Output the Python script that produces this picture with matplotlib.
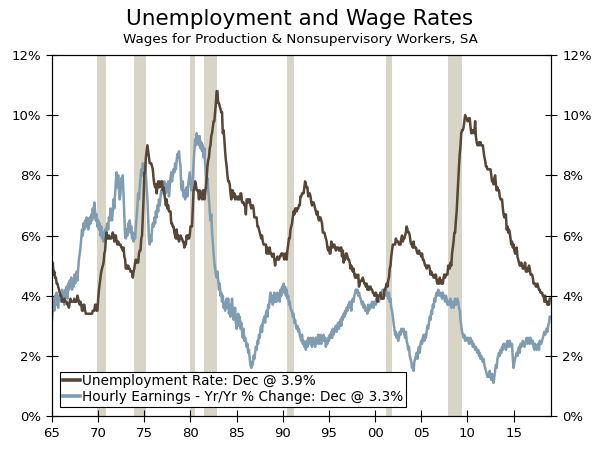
import numpy as np
import matplotlib
matplotlib.use("Agg")
import matplotlib.pyplot as plt

# monthly unemployment rate, 1965-2018 (one row per year)
unemp = [
    4.9, 5.1, 4.7, 4.8, 4.6, 4.6, 4.4, 4.4, 4.3, 4.2, 4.1, 4.0,
    4.0, 3.8, 3.8, 3.8, 3.9, 3.8, 3.8, 3.8, 3.7, 3.7, 3.6, 3.8,
    3.9, 3.8, 3.8, 3.8, 3.8, 3.9, 3.8, 3.8, 3.8, 4.0, 3.9, 3.8,
    3.7, 3.8, 3.7, 3.5, 3.5, 3.7, 3.7, 3.5, 3.4, 3.4, 3.4, 3.4,
    3.4, 3.4, 3.4, 3.4, 3.4, 3.5, 3.5, 3.5, 3.7, 3.7, 3.5, 3.5,
    3.9, 4.2, 4.4, 4.6, 4.8, 4.9, 5.0, 5.1, 5.4, 5.5, 5.9, 6.1,
    5.9, 5.9, 6.0, 5.9, 5.9, 5.9, 6.0, 6.1, 6.0, 5.8, 6.0, 6.0,
    5.8, 5.7, 5.8, 5.7, 5.7, 5.7, 5.6, 5.6, 5.5, 5.6, 5.3, 5.2,
    4.9, 5.0, 4.9, 5.0, 4.9, 4.9, 4.8, 4.8, 4.8, 4.6, 4.8, 4.9,
    5.1, 5.2, 5.1, 5.1, 5.1, 5.4, 5.5, 5.5, 5.9, 6.0, 6.6, 7.2,
    8.1, 8.1, 8.6, 8.8, 9.0, 8.8, 8.6, 8.4, 8.4, 8.4, 8.3, 8.2,
    7.9, 7.7, 7.6, 7.7, 7.4, 7.6, 7.8, 7.8, 7.6, 7.7, 7.8, 7.8,
    7.5, 7.6, 7.4, 7.2, 7.0, 7.2, 6.9, 7.0, 6.8, 6.8, 6.8, 6.4,
    6.4, 6.3, 6.3, 6.1, 6.0, 5.9, 6.2, 5.9, 6.0, 5.8, 5.9, 6.0,
    5.9, 5.9, 5.8, 5.8, 5.6, 5.7, 5.7, 6.0, 5.9, 6.0, 5.9, 6.0,
    6.3, 6.3, 6.3, 6.9, 7.5, 7.6, 7.8, 7.7, 7.5, 7.5, 7.5, 7.2,
    7.5, 7.4, 7.4, 7.2, 7.5, 7.5, 7.2, 7.4, 7.6, 7.9, 8.3, 8.5,
    8.6, 8.9, 9.0, 9.3, 9.4, 9.6, 9.8, 9.8, 10.1, 10.4, 10.8, 10.8,
    10.4, 10.4, 10.3, 10.2, 10.1, 10.1, 9.4, 9.5, 9.2, 8.8, 8.5, 8.3,
    8.0, 7.8, 7.8, 7.7, 7.4, 7.2, 7.5, 7.5, 7.3, 7.4, 7.2, 7.3,
    7.3, 7.2, 7.2, 7.3, 7.2, 7.4, 7.4, 7.1, 7.1, 7.1, 7.0, 7.0,
    6.7, 7.2, 7.2, 7.1, 7.2, 7.2, 7.0, 6.9, 7.0, 7.0, 6.9, 6.6,
    6.6, 6.6, 6.6, 6.3, 6.3, 6.2, 6.1, 6.0, 5.9, 6.0, 5.8, 5.7,
    5.7, 5.7, 5.7, 5.4, 5.6, 5.4, 5.4, 5.6, 5.4, 5.4, 5.3, 5.3,
    5.4, 5.2, 5.0, 5.2, 5.2, 5.3, 5.2, 5.2, 5.3, 5.3, 5.4, 5.4,
    5.4, 5.3, 5.2, 5.4, 5.4, 5.2, 5.5, 5.7, 5.9, 5.9, 6.2, 6.3,
    6.4, 6.6, 6.8, 6.7, 6.9, 6.9, 6.8, 6.9, 6.9, 7.0, 7.0, 7.3,
    7.3, 7.4, 7.4, 7.4, 7.6, 7.8, 7.7, 7.6, 7.6, 7.3, 7.4, 7.4,
    7.3, 7.1, 7.0, 7.1, 7.1, 7.0, 6.9, 6.8, 6.7, 6.8, 6.6, 6.5,
    6.6, 6.6, 6.5, 6.4, 6.1, 6.1, 6.1, 6.0, 5.9, 5.8, 5.6, 5.5,
    5.6, 5.4, 5.4, 5.8, 5.6, 5.6, 5.7, 5.7, 5.6, 5.5, 5.6, 5.6,
    5.6, 5.5, 5.5, 5.6, 5.6, 5.3, 5.5, 5.1, 5.2, 5.2, 5.4, 5.4,
    5.3, 5.2, 5.2, 5.1, 4.9, 5.0, 4.9, 4.8, 4.9, 4.7, 4.6, 4.7,
    4.6, 4.6, 4.7, 4.3, 4.4, 4.5, 4.5, 4.5, 4.6, 4.5, 4.4, 4.4,
    4.3, 4.4, 4.2, 4.3, 4.2, 4.3, 4.3, 4.2, 4.2, 4.1, 4.1, 4.0,
    4.0, 4.1, 4.0, 3.8, 4.0, 4.0, 4.0, 4.1, 3.9, 3.9, 3.9, 3.9,
    4.2, 4.2, 4.3, 4.4, 4.3, 4.5, 4.6, 4.9, 5.0, 5.3, 5.5, 5.7,
    5.7, 5.7, 5.7, 5.9, 5.8, 5.8, 5.8, 5.7, 5.7, 5.7, 5.9, 6.0,
    5.8, 5.9, 5.9, 6.0, 6.1, 6.3, 6.2, 6.1, 6.1, 6.0, 5.8, 5.7,
    5.7, 5.6, 5.8, 5.6, 5.6, 5.6, 5.5, 5.4, 5.4, 5.5, 5.4, 5.4,
    5.3, 5.4, 5.2, 5.2, 5.1, 5.0, 5.0, 4.9, 5.0, 5.0, 5.0, 4.9,
    4.7, 4.8, 4.7, 4.7, 4.6, 4.6, 4.7, 4.7, 4.5, 4.4, 4.5, 4.4,
    4.6, 4.5, 4.4, 4.5, 4.4, 4.6, 4.7, 4.6, 4.7, 4.7, 4.7, 5.0,
    5.0, 4.9, 5.1, 5.0, 5.4, 5.6, 5.8, 6.1, 6.1, 6.5, 6.8, 7.3,
    7.8, 8.3, 8.7, 9.0, 9.4, 9.5, 9.5, 9.6, 9.8, 10.0, 9.9, 9.9,
    9.8, 9.8, 9.9, 9.9, 9.6, 9.4, 9.4, 9.5, 9.5, 9.4, 9.8, 9.3,
    9.1, 9.0, 9.0, 9.1, 9.0, 9.1, 9.0, 9.0, 9.0, 8.8, 8.6, 8.5,
    8.3, 8.3, 8.2, 8.2, 8.2, 8.2, 8.2, 8.0, 7.8, 7.8, 7.7, 7.9,
    8.0, 7.7, 7.5, 7.6, 7.5, 7.5, 7.3, 7.2, 7.2, 7.2, 6.9, 6.7,
    6.6, 6.7, 6.7, 6.2, 6.3, 6.1, 6.2, 6.1, 5.9, 5.7, 5.8, 5.6,
    5.7, 5.5, 5.4, 5.4, 5.6, 5.3, 5.2, 5.1, 5.0, 5.0, 5.1, 5.0,
    4.9, 4.9, 5.0, 5.1, 4.8, 4.9, 4.8, 4.9, 5.0, 4.9, 4.7, 4.7,
    4.7, 4.6, 4.4, 4.4, 4.4, 4.3, 4.3, 4.4, 4.3, 4.2, 4.2, 4.1,
    4.1, 4.1, 4.0, 4.0, 3.8, 4.0, 3.8, 3.8, 3.7, 3.8, 3.7, 3.9,
]

# hourly earnings, production & nonsupervisory, yr/yr % change, 1965-2018
earn = [
    3.2, 3.6, 3.9, 3.5, 4.0, 3.7, 4.1, 3.8, 3.6, 4.0, 3.9, 4.1,
    3.8, 4.2, 3.9, 4.1, 3.7, 4.2, 4.0, 4.3, 3.9, 4.4, 4.2, 4.5,
    4.3, 4.6, 4.2, 4.5, 4.3, 4.7, 4.4, 4.6, 4.8, 4.5, 4.9, 5.2,
    5.4, 5.6, 5.9, 6.2, 6.0, 6.4, 6.2, 6.5, 6.3, 6.6, 6.4, 6.2,
    6.3, 6.6, 6.4, 6.7, 6.5, 6.9, 6.6, 7.1, 6.8, 6.5, 6.7, 6.3,
    6.5, 6.2, 6.4, 6.0, 6.3, 5.9, 6.1, 5.8, 6.0, 6.2, 5.9, 6.3,
    6.4, 6.2, 6.6, 6.5, 6.9, 6.7, 6.5, 6.8, 7.2, 6.9, 7.4, 7.8,
    8.1, 7.6, 8.0, 7.5, 7.2, 7.4, 7.9, 7.7, 8.0, 7.3, 6.6, 6.0,
    5.9, 6.2, 6.0, 6.4, 6.2, 6.5, 6.1, 6.3, 5.9, 6.1, 5.8, 6.0,
    5.9, 6.3, 6.6, 7.0, 7.4, 7.2, 7.6, 7.9, 8.2, 8.0, 8.4, 8.3,
    8.2, 8.4, 8.0, 7.6, 7.2, 6.5, 5.9, 5.7, 6.0, 5.8, 6.2, 6.4,
    6.3, 6.6, 6.4, 6.8, 6.6, 7.0, 6.8, 7.2, 7.0, 7.3, 7.5, 7.4,
    7.7, 7.5, 7.8, 7.6, 7.4, 7.7, 7.5, 7.8, 7.3, 7.6, 7.9, 8.1,
    7.8, 8.0, 8.2, 8.1, 8.4, 8.2, 8.5, 8.7, 8.6, 8.8, 8.5, 8.3,
    7.6, 7.5, 7.8, 7.3, 7.5, 7.2, 7.4, 7.6, 7.3, 7.7, 7.9, 8.1,
    7.8, 7.5, 7.7, 7.9, 8.4, 8.8, 9.2, 9.0, 9.4, 9.1, 9.3, 9.0,
    9.3, 8.9, 9.1, 8.8, 9.0, 8.6, 8.9, 8.4, 8.1, 7.8, 7.9, 7.5,
    7.2, 6.8, 6.5, 6.7, 6.1, 5.8, 5.4, 5.1, 4.9, 4.7, 4.6, 4.8,
    4.5, 4.2, 4.4, 4.0, 4.1, 3.8, 4.0, 3.6, 3.7, 3.5, 3.8, 3.9,
    3.6, 3.9, 3.4, 3.7, 3.3, 3.6, 3.9, 3.5, 3.2, 3.4, 3.6, 3.1,
    2.9, 3.2, 3.4, 3.0, 3.3, 2.9, 3.1, 2.8, 2.6, 2.9, 2.5, 2.6,
    2.5, 2.3, 2.4, 2.1, 2.2, 1.9, 1.7, 1.6, 1.8, 1.7, 2.0, 1.9,
    2.1, 2.3, 2.2, 2.5, 2.4, 2.7, 2.6, 2.9, 3.0, 2.8, 3.1, 3.2,
    3.3, 3.1, 3.4, 3.5, 3.3, 3.7, 3.6, 3.9, 4.1, 3.8, 4.0, 3.7,
    3.9, 4.1, 3.8, 4.0, 3.8, 4.1, 3.9, 4.0, 3.8, 4.2, 4.0, 4.3,
    4.2, 4.4, 4.1, 4.3, 4.0, 4.2, 3.9, 4.0, 3.7, 3.8, 3.6, 3.5,
    3.5, 3.3, 3.4, 3.1, 3.2, 3.0, 2.9, 3.0, 2.8, 2.9, 2.7, 2.6,
    2.5, 2.7, 2.4, 2.5, 2.3, 2.4, 2.2, 2.5, 2.3, 2.6, 2.4, 2.5,
    2.6, 2.4, 2.3, 2.6, 2.4, 2.5, 2.3, 2.6, 2.4, 2.5, 2.7, 2.4,
    2.5, 2.7, 2.4, 2.6, 2.5, 2.7, 2.5, 2.6, 2.3, 2.5, 2.4, 2.6,
    2.5, 2.7, 2.6, 2.8, 2.6, 2.9, 2.7, 2.8, 2.9, 3.0, 2.8, 3.0,
    3.1, 2.9, 3.1, 3.2, 3.0, 3.3, 3.2, 3.4, 3.3, 3.5, 3.4, 3.6,
    3.5, 3.7, 3.6, 3.8, 3.7, 3.5, 3.8, 3.9, 3.8, 4.0, 4.1, 4.2,
    4.1, 4.2, 4.0, 4.1, 4.0, 3.9, 3.8, 3.7, 3.8, 3.6, 3.7, 3.5,
    3.5, 3.6, 3.4, 3.7, 3.5, 3.6, 3.7, 3.6, 3.8, 3.7, 3.6, 3.8,
    3.8, 3.7, 3.9, 3.8, 3.9, 3.8, 4.0, 3.9, 4.1, 4.0, 4.2, 4.1,
    4.1, 4.0, 4.2, 4.1, 4.0, 3.9, 4.1, 3.8, 3.9, 3.6, 3.5, 3.3,
    3.1, 2.9, 2.7, 2.8, 2.6, 2.7, 2.5, 2.6, 2.8, 2.7, 2.9, 2.8,
    2.8, 2.9, 2.7, 2.6, 2.8, 2.5, 2.4, 2.2, 2.3, 2.0, 1.9, 1.8,
    1.6, 1.7, 1.5, 1.8, 1.9, 2.0, 2.1, 1.9, 2.2, 2.3, 2.1, 2.4,
    2.5, 2.4, 2.6, 2.7, 2.5, 2.7, 2.6, 2.8, 3.0, 2.9, 3.1, 3.3,
    3.2, 3.5, 3.4, 3.7, 3.6, 3.9, 3.8, 4.0, 4.1, 4.0, 4.2, 4.1,
    4.0, 4.1, 4.0, 3.9, 4.1, 4.0, 3.9, 3.8, 4.0, 3.9, 3.7, 3.8,
    3.7, 3.8, 3.9, 3.6, 3.8, 3.7, 3.6, 3.8, 3.9, 3.7, 3.8, 3.9,
    3.8, 3.6, 3.5, 3.2, 3.0, 2.8, 2.7, 2.6, 2.7, 2.5, 2.6, 2.6,
    2.5, 2.6, 2.4, 2.5, 2.6, 2.4, 2.5, 2.3, 2.4, 2.3, 2.2, 2.3,
    2.2, 2.1, 2.2, 2.0, 2.1, 1.9, 2.0, 1.9, 1.8, 1.9, 1.7, 1.6,
    1.5, 1.4, 1.3, 1.4, 1.3, 1.5, 1.3, 1.2, 1.4, 1.2, 1.1, 1.3,
    1.5, 1.7, 1.6, 1.9, 2.0, 2.1, 2.0, 2.2, 2.1, 2.3, 2.2, 2.4,
    2.3, 2.4, 2.2, 2.3, 2.5, 2.4, 2.3, 2.5, 2.4, 2.3, 2.4, 1.9,
    1.6, 1.8, 1.9, 2.0, 2.1, 2.0, 2.2, 2.3, 2.1, 2.4, 2.3, 2.4,
    2.5, 2.4, 2.3, 2.4, 2.5, 2.6, 2.4, 2.5, 2.6, 2.4, 2.6, 2.5,
    2.4, 2.5, 2.3, 2.2, 2.4, 2.3, 2.2, 2.3, 2.4, 2.2, 2.5, 2.4,
    2.4, 2.5, 2.6, 2.7, 2.8, 2.7, 2.8, 2.9, 2.8, 3.0, 3.1, 3.3,
]

start_year = 1965

# NBER recessions (year, month) peak to trough
recessions = [
    ((1969, 12), (1970, 11)),
    ((1973, 11), (1975, 3)),
    ((1980, 1), (1980, 7)),
    ((1981, 7), (1982, 11)),
    ((1990, 7), (1991, 3)),
    ((2001, 3), (2001, 11)),
    ((2007, 12), (2009, 6)),
]

xtick_years = list(range(1965, 2020, 5))
xtick_labels = ["65", "70", "75", "80", "85", "90", "95", "00", "05", "10", "15"]
yticks = [0, 2, 4, 6, 8, 10, 12]

unemp_label = "Unemployment Rate: Dec @ 3.9%"
earn_label = "Hourly Earnings - Yr/Yr % Change: Dec @ 3.3%"

brown = "#574536"
blue = "#7f9db2"
shade = "#d8d5c7"

t = start_year + np.arange(len(unemp)) / 12.0

fig = plt.figure(figsize=(6, 4.49), dpi=100)
ax = fig.add_axes([0.0867, 0.0735, 0.8316, 0.804])

for (y0, m0), (y1, m1) in recessions:
    ax.axvspan(y0 + (m0 - 1) / 12, y1 + (m1 - 1) / 12, color=shade, lw=0, zorder=0)

ax.plot(t, earn, color=blue, lw=1.8, label=earn_label, zorder=2)
ax.plot(t, unemp, color=brown, lw=1.8, label=unemp_label, zorder=3)

ax.set_xlim(1965, 2019.05)
ax.set_ylim(0, 12)
ax.set_xticks(xtick_years)
ax.set_xticklabels(xtick_labels)
ax.set_yticks(yticks)
ax.set_yticklabels([f"{v}%" for v in yticks])
ax.tick_params(direction="inout", length=8, width=0.8, labelsize=9.5, pad=4)

ax2 = ax.twinx()
ax2.set_ylim(0, 12)
ax2.set_yticks(yticks)
ax2.set_yticklabels([f"{v}%" for v in yticks])
ax2.tick_params(direction="inout", length=8, width=0.8, labelsize=9.5, pad=4)

for a in (ax, ax2):
    for s in a.spines.values():
        s.set_linewidth(0.8)

h, l = ax.get_legend_handles_labels()
leg = ax.legend(h[::-1], l[::-1], loc="lower left", bbox_to_anchor=(0.016, 0.026),
                fontsize=9.8, frameon=True, fancybox=False, edgecolor="black",
                framealpha=1, handlelength=1.3, handletextpad=0.15,
                borderpad=0.2, labelspacing=0.12, borderaxespad=0)
leg.get_frame().set_linewidth(0.8)
for line in leg.get_lines():
    line.set_linewidth(2.6)
leg.set_zorder(5)

fig.text(0.5, 0.958, "Unemployment and Wage Rates", ha="center", va="center", fontsize=15.5)
fig.text(0.5, 0.912, "Wages for Production & Nonsupervisory Workers, SA", ha="center",
         va="center", fontsize=9.7)

fig.savefig("out.png", dpi=100)
